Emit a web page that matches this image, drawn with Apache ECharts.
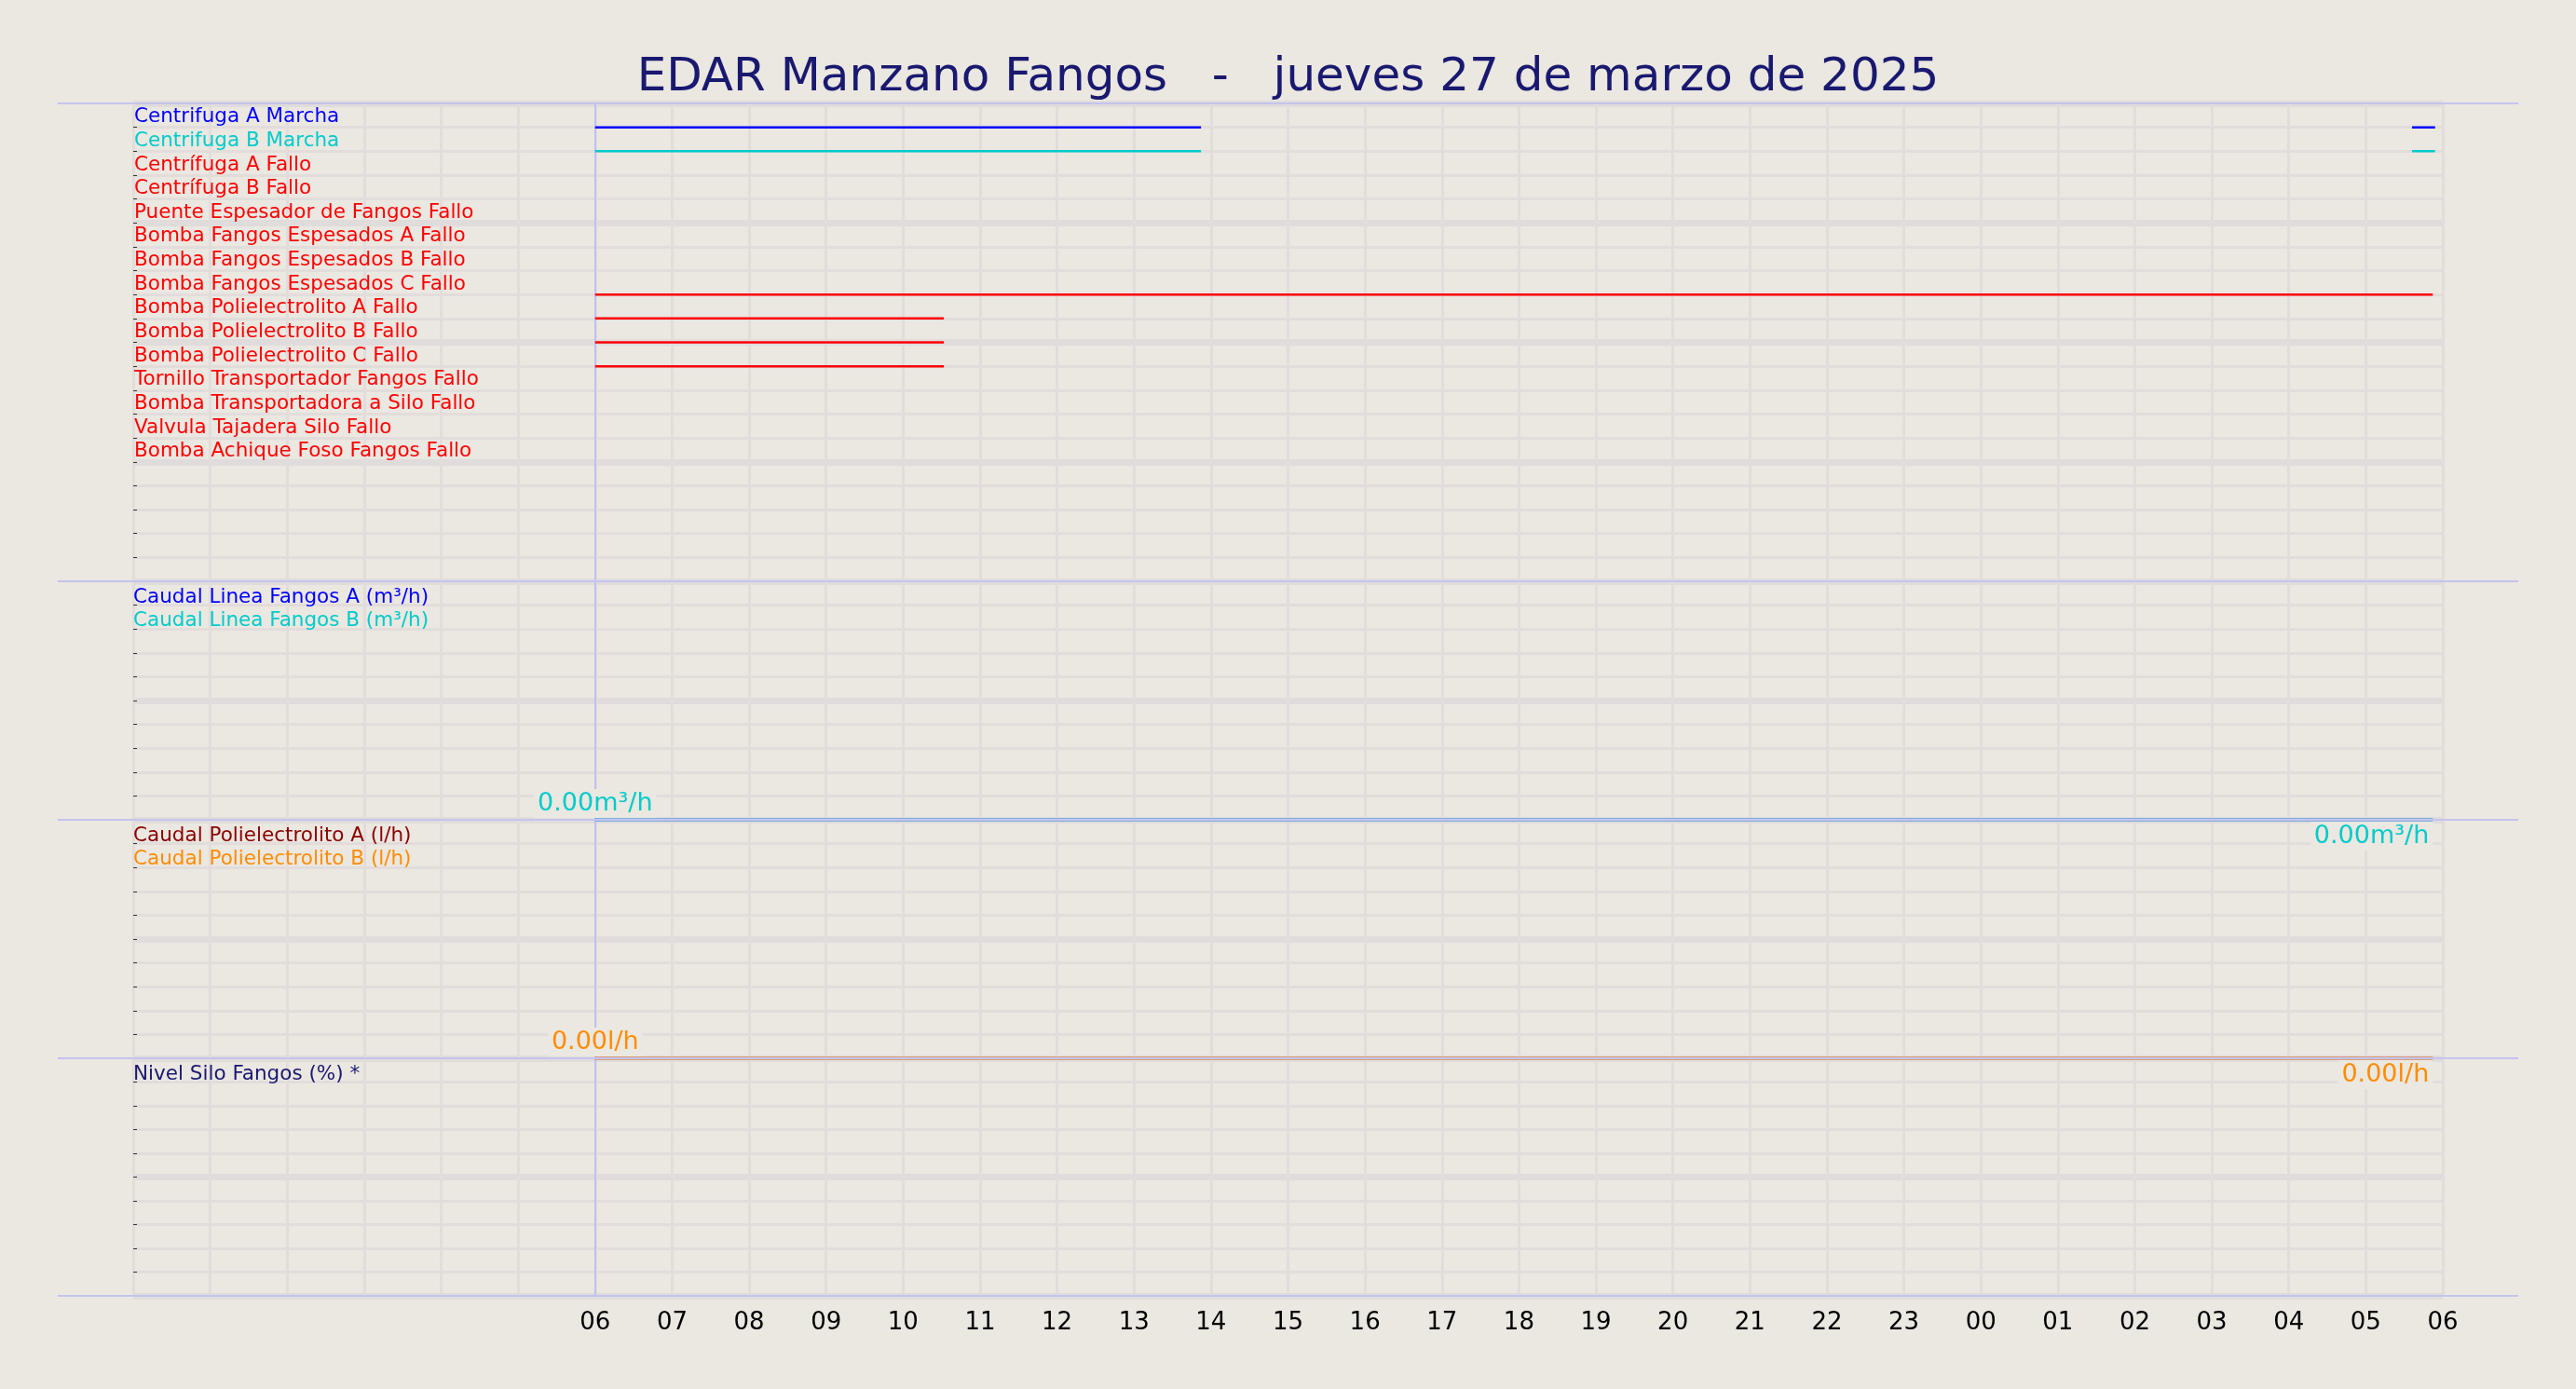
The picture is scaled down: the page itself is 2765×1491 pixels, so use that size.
<!DOCTYPE html>
<html><head><meta charset="utf-8">
<script src="https://cdn.jsdelivr.net/npm/echarts@6/dist/echarts.min.js"></script>
<style>html,body{margin:0;padding:0;background:#ebe7e1}#c{width:2765px;height:1491px}</style>
</head><body><div id="c"></div>
<script>
// ---- data ----
const title = 'EDAR Manzano Fangos   -   jueves 27 de marzo de 2025';
const digitalNames = ['Centrifuga A Marcha','Centrifuga B Marcha','Centrífuga A Fallo','Centrífuga B Fallo','Puente Espesador de Fangos Fallo','Bomba Fangos Espesados A Fallo','Bomba Fangos Espesados B Fallo','Bomba Fangos Espesados C Fallo','Bomba Polielectrolito A Fallo','Bomba Polielectrolito B Fallo','Bomba Polielectrolito C Fallo','Tornillo Transportador Fangos Fallo','Bomba Transportadora a Silo Fallo','Valvula Tajadera Silo Fallo','Bomba Achique Foso Fangos Fallo'];
const digitalColors = ['#0000ff','#00cccc','#ff0000','#ff0000','#ff0000','#ff0000','#ff0000','#ff0000','#ff0000','#ff0000','#ff0000','#ff0000','#ff0000','#ff0000','#ff0000'];
// on-intervals in hours from 00:00 of the day (06 = 6, next-day 05:52 = 29.87)
const digitalSegments = [
  [[6,13.87],[29.6,29.9]],
  [[6,13.87],[29.6,29.9]],
  [],[],[],[],[],
  [[6,29.87]],
  [[6,10.53]],
  [[6,10.53]],
  [[6,10.53]],
  [],[],[],[]
];
const caudalNames = ['Caudal Linea Fangos A (m³/h)','Caudal Linea Fangos B (m³/h)'];
const caudalColors = ['#0000ff','#00cccc'];
const caudalValues = [[[6,0],[29.87,0]],[[6,0],[29.87,0]]];
const poliNames = ['Caudal Polielectrolito A (l/h)','Caudal Polielectrolito B (l/h)'];
const poliColors = ['#8b0000','#ff8c00'];
const poliValues = [[[6,0],[29.87,0]],[[6,0],[29.87,0]]];
const siloNames = ['Nivel Silo Fangos (%) *'];
const siloColors = ['#191970'];
const xMin = 0, xMax = 30;

// ---- layout ----
const L = 143, R = 143;
const panels = [{top:111,h:513,rows:20},{top:624,h:256,rows:10},{top:880,h:256,rows:10},{top:1136,h:255,rows:10}];
const bg = '#ebe7e1', gridC = '#e2dddb';
const pad = n => (n<10?'0':'')+n;
const FS = 21.5;

const grid=[], xAxis=[], yAxis=[], series=[], graphic=[];
panels.forEach((p,i)=>{
  grid.push({left:L,right:R,top:p.top,height:p.h});
  xAxis.push({type:'value',gridIndex:i,min:xMin,max:xMax,interval:1,
    axisLine:{show:false},axisTick:{show:false},
    splitLine:{show:true,lineStyle:{color:gridC,width:3}},
    axisLabel:{show:i===3,fontSize:26,color:'#000',fontFamily:'DejaVu Sans',margin:16,
      formatter:v=>v>=6?pad(v%24):''}});
  const isDig = i===0;
  yAxis.push({type:'value',gridIndex:i,min:0,max:p.rows,interval:1,inverse:isDig,
    axisLine:{show:false},
    axisTick:{show:true,inside:true,length:4,lineStyle:{color:'#333'}},
    splitLine:{show:true,lineStyle:{color:gridC,width:3}},
    axisLabel:isDig?{show:true,inside:true,verticalAlign:'bottom',margin:1,fontSize:FS,fontFamily:'DejaVu Sans',
      formatter:v=>digitalNames[v-1]||'',
      color:(v,idx)=>digitalColors[(+v)-1]||'#000'}:{show:false}});
  yAxis.push({type:'value',gridIndex:i,min:0,max:p.rows,interval:5,inverse:isDig,
    axisLine:{show:false},axisTick:{show:false},axisLabel:{show:false},
    splitLine:{show:true,lineStyle:{color:'#e0dcdc',width:7}}});
  graphic.push({type:'line',shape:{x1:62,y1:p.top,x2:2703,y2:p.top},style:{stroke:'#c4c4ee',lineWidth:2},z:10});
  series.push({type:'line',xAxisIndex:i,yAxisIndex:2*i,data:[],
    markLine:{silent:true,symbol:'none',label:{show:false},lineStyle:{color:'#c0c0f0',width:2,type:'solid'},data:[{xAxis:6}]}});
});
graphic.push({type:'line',shape:{x1:62,y1:1391,x2:2703,y2:1391},style:{stroke:'#c4c4ee',lineWidth:2},z:10});

digitalSegments.forEach((segs,k)=>{
  segs.forEach(s=>{
    series.push({type:'line',xAxisIndex:0,yAxisIndex:0,symbol:'none',z:5,
      lineStyle:{color:digitalColors[k],width:2.5},data:[[s[0],k+1],[s[1],k+1]]});
  });
});

function analog(idx,names,colors,values,unit,labelIdx){
  values.forEach((v,k)=>{
    const lab = k===labelIdx;
    series.push({type:'line',xAxisIndex:idx,yAxisIndex:2*idx,symbol:'circle',symbolSize:0.01,showSymbol:true,z:5+k,
      clip:false,
      lineStyle:{color:colors[k],width:2.5},itemStyle:{color:colors[k],opacity:0},
      data:v.map((pt,j)=>lab?{value:pt,label:{show:true,position:j===0?'top':'bottom',
        align:j===0?'center':'right',distance:2,
        formatter:p=>p.value[1].toFixed(2)+unit,color:colors[k],fontSize:27,fontFamily:'DejaVu Sans',
        backgroundColor:bg,padding:[2,4],opacity:1}}:{value:pt})});
  });
  names.forEach((n,k)=>{
    graphic.push({type:'text',left:L,top:panels[idx].top+6+k*25.7,
      style:{text:n,fill:colors[k],fontSize:FS,fontFamily:'DejaVu Sans'},z:10});
  });
}
analog(1,caudalNames,caudalColors,caudalValues,'m³/h',1);
analog(2,poliNames,poliColors,poliValues,'l/h',1);
siloNames.forEach((n,k)=>graphic.push({type:'text',left:L,top:panels[3].top+6+k*25.7,
  style:{text:n,fill:siloColors[k],fontSize:FS,fontFamily:'DejaVu Sans'},z:10}));

const chart = echarts.init(document.getElementById('c'));
chart.setOption({
  backgroundColor:bg, animation:false,
  title:{text:title,left:'center',top:54,textStyle:{color:'#191970',fontSize:50,fontWeight:'normal',fontFamily:'DejaVu Sans'}},
  grid,xAxis,yAxis,series,graphic
});
</script></body></html>
